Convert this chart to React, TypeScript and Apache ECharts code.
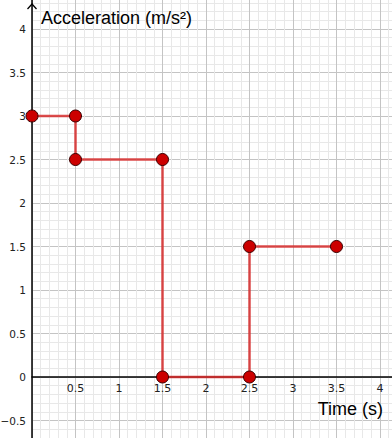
import React, { useEffect, useRef } from "react";
import * as echarts from "echarts";

// Data (piecewise-constant acceleration)
const times = [0, 0.5, 0.5, 1.5, 1.5, 2.5, 2.5, 3.5];
const accel = [3, 3, 2.5, 2.5, 0, 0, 1.5, 1.5];

// Axis settings
const xMin = 0;
const xMax = 4.5;
const yMin = -1;
const yMax = 4.5;
const majorStep = 0.5;

const yTitle = "Acceleration (m/s²)";
const xTitle = "Time (s)";

const FONT = "Liberation Sans";
const LABEL_FONT = "DejaVu Sans";

function fmt(v: number): string {
  const r = Math.round(v * 1000) / 1000;
  if (Math.abs(r / majorStep - Math.round(r / majorStep)) > 1e-6) return "";
  const s = String(Math.abs(r));
  return r < 0 ? "\u2212" + s : s;
}

export default function App() {
  const ref = useRef<HTMLDivElement>(null);

  useEffect(() => {
    document.body.style.margin = "0";
    if (!ref.current) return;
    const chart = echarts.init(ref.current, undefined, { renderer: "svg" });
    const H = 438;
    // 87 px per unit; origin at (32, 377)
    const unit = 87;
    const ox = 32;
    const oy = 377;
    const gridLeft = ox - (0 - xMin) * unit;
    const gridTop = oy - yMax * unit;
    const gridW = (xMax - xMin) * unit;
    const gridH = (yMax - yMin) * unit;

    chart.setOption({
      animation: false,
      backgroundColor: "#ffffff",
      grid: {
        left: gridLeft,
        top: gridTop,
        width: gridW,
        height: gridH,
        containLabel: false,
        outerBoundsMode: "none",
      },
      title: [
        {
          text: yTitle,
          left: 36,
          top: 4,
          textStyle: { fontFamily: FONT, fontSize: 18, fontWeight: "normal", color: "#000" },
        },
        {
          text: xTitle,
          right: 4,
          top: 395,
          textStyle: { fontFamily: FONT, fontSize: 18, fontWeight: "normal", color: "#000" },
        },
      ],
      xAxis: {
        type: "value",
        min: xMin,
        max: xMax,
        interval: majorStep,
        position: "bottom",
        offset: -(0 - yMin) * unit,
        axisLine: { show: true, onZero: false, lineStyle: { color: "#000", width: 1.5 } },
        axisTick: { show: false },
        minorTick: { show: false, splitNumber: 5 },
        axisLabel: {
          margin: 6,
          fontFamily: LABEL_FONT,
          fontSize: 11,
          color: "#222",
          showMinLabel: false,
          showMaxLabel: false,
          formatter: (v: number) => (v === 0 ? "" : fmt(v)),
        },
        splitLine: { show: true, lineStyle: { color: "#c4c4c4", width: 1 } },
        minorSplitLine: { show: true, lineStyle: { color: "#e8e8e8", width: 1 } },
      },
      yAxis: {
        type: "value",
        min: yMin,
        max: yMax,
        interval: majorStep,
        axisLine: { show: true, onZero: true, lineStyle: { color: "#000", width: 1.5 } },
        axisTick: { show: false },
        minorTick: { show: false, splitNumber: 5 },
        axisLabel: {
          margin: 6,
          fontFamily: LABEL_FONT,
          fontSize: 10.5,
          color: "#222",
          showMinLabel: false,
          showMaxLabel: false,
          formatter: (v: number) => fmt(v),
        },
        splitLine: { show: true, lineStyle: { color: "#c4c4c4", width: 1 } },
        minorSplitLine: { show: true, lineStyle: { color: "#e8e8e8", width: 1 } },
      },
      series: [
        {
          type: "line",
          data: times.map((t, i) => [t, accel[i]]),
          symbol: "circle",
          symbolSize: 12,
          showAllSymbol: true,
          lineStyle: { color: "rgba(215,45,45,0.85)", width: 2.5 },
          itemStyle: { color: "#cc0000", borderColor: "#3a0000", borderWidth: 1 },
          clip: false,
          z: 5,
        },
      ],
    });

    const ax = chart.convertToPixel({ xAxisIndex: 0 }, 0) as number;
    chart.setOption({
      graphic: [
        {
          type: "polyline",
          shape: { points: [[ax - 4.5, 9], [ax, 4], [ax + 4.5, 9]] },
          style: { stroke: "#000", lineWidth: 1.3, fill: "none" },
          z: 10,
        },
        {
          type: "rect",
          shape: { x: 0, y: 0, width: ax - 0.75, height: H },
          style: { fill: "#ffffff" },
          z: 0,
          silent: true,
        },
      ],
    });

    return () => chart.dispose();
  }, []);

  return <div ref={ref} style={{ width: 392, height: 438 }} />;
}
